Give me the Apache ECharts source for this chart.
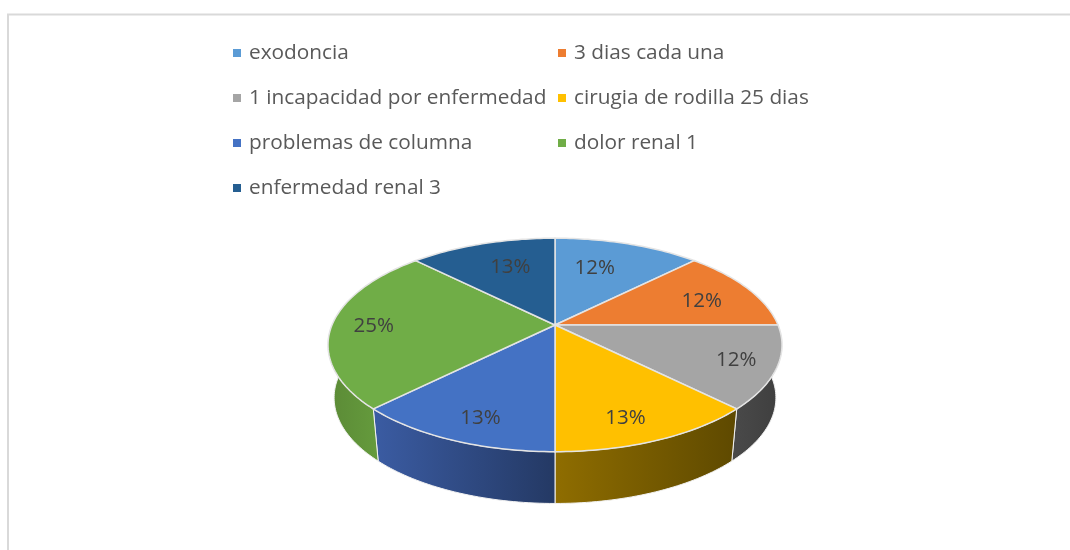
<!DOCTYPE html>
<html>
<head>
<meta charset="utf-8">
<style>
  html, body { margin: 0; padding: 0; background: #fff; }
  #chart { width: 1070px; height: 550px; }
</style>
</head>
<body>
<div id="chart"></div>
<script src="https://cdn.jsdelivr.net/npm/echarts@6/dist/echarts.min.js"></script>
<script>
const sliceNames = ['exodoncia', '3 dias cada una', '1 incapacidad por enfermedad', 'cirugia de rodilla 25 dias', 'problemas de columna', 'dolor renal 1', 'enfermedad renal 3']
const sliceValues = [12.5, 12.5, 12.5, 12.5, 12.5, 25, 12.5]
const sliceLabels = ['12%', '12%', '12%', '13%', '13%', '25%', '13%']

const colors = ['#5B9BD5', '#ED7D31', '#A5A5A5', '#FFC000', '#4472C4', '#70AD47', '#255E91']
const wallColors = [
  ['#5B9BD5', '#5B9BD5'],
  ['#ED7D31', '#ED7D31'],
  ['#4A4A4A', '#3E3E3E'],
  ['#8F6D00', '#5E4900'],
  ['#3B5CA3', '#243964'],
  ['#5B8A36', '#659B3D'],
  ['#255E91', '#255E91']
]
// nudge of each percent label away from the slice mid point
const labelNudge = [[-17, 6], [0, 4], [18, 4], [-3, 11], [-1, 11], [-14, 1], [12, 5]]

const font = '"Open Sans", sans-serif'
const total = sliceValues.reduce((a, b) => a + b, 0)

// perspective disc: u to the right, v towards the viewer
const k = 0.187
const topDisc = { cx: 555, cy: 325, rx: 223, ry: 103 }
const bottomDisc = { cx: 555, cy: 378, rx: 217, ry: 102 }

function project(disc, angle, r = 1) {
  const u = Math.sin(angle) * r
  const v = -Math.cos(angle) * r
  const d = 1 - k * v
  return [disc.cx + disc.rx * u / d, disc.cy + disc.ry * v / d]
}

function sliceAngles(i) {
  const before = sliceValues.slice(0, i).reduce((a, b) => a + b, 0)
  return [before / total * Math.PI * 2, (before + sliceValues[i]) / total * Math.PI * 2]
}

function arcPoints(disc, from, to) {
  const pts = []
  const steps = Math.max(2, Math.ceil((to - from) / 0.02))
  for (let s = 0; s <= steps; s++) pts.push(project(disc, from + (to - from) * s / steps))
  return pts
}

function renderSlice(params, api) {
  const i = params.seriesIndex
  const [a0, a1] = sliceAngles(i)
  const children = []

  // outer wall, only the part facing the viewer
  const w0 = Math.max(a0, Math.PI / 2)
  const w1 = Math.min(a1, Math.PI * 1.5)
  if (w1 > w0) {
    const points = arcPoints(topDisc, w0, w1).concat(arcPoints(bottomDisc, w0, w1).reverse())
    children.push({
      type: 'polygon',
      z2: 1,
      shape: { points },
      style: {
        fill: new echarts.graphic.LinearGradient(0, 0, 1, 0, [
          { offset: 0, color: wallColors[i][0] },
          { offset: 1, color: wallColors[i][1] }
        ]),
        stroke: '#f2f2f2',
        lineWidth: 1
      }
    })
  }

  children.push({
    type: 'polygon',
    z2: 10,
    shape: { points: [[topDisc.cx, topDisc.cy]].concat(arcPoints(topDisc, a0, a1)) },
    style: { fill: colors[i], stroke: '#e4e4e4', lineWidth: 1.5 }
  })

  const mid = project(topDisc, (a0 + a1) / 2, 0.75)
  children.push({
    type: 'text',
    z2: 20,
    style: {
      text: sliceLabels[i],
      x: mid[0] + labelNudge[i][0],
      y: mid[1] + labelNudge[i][1],
      fill: '#404040',
      font: '20.5px ' + font,
      align: 'center',
      verticalAlign: 'middle'
    }
  })
  return { type: 'group', children }
}

const legendBase = {
  orient: 'vertical',
  padding: 0,
  top: 42,
  itemWidth: 8,
  itemHeight: 8,
  itemGap: 23,
  icon: 'rect',
  selectedMode: false,
  textStyle: { color: '#595959', fontFamily: font, fontSize: 20.8, lineHeight: 22, padding: [0, 0, 0, 3] }
}

const chart = echarts.init(document.getElementById('chart'), null, { renderer: 'canvas' })
chart.setOption({
  animation: false,
  backgroundColor: '#fff',
  legend: [
    { ...legendBase, left: 233, data: sliceNames.filter((n, i) => i % 2 === 0) },
    { ...legendBase, left: 558, data: sliceNames.filter((n, i) => i % 2 === 1) }
  ],
  graphic: [{
    type: 'polyline',
    silent: true,
    shape: { points: [[8, 550], [8, 14.5], [1070, 14.5]] },
    style: { stroke: '#d9d9d9', lineWidth: 2, fill: null }
  }],
  series: sliceNames.map((name, i) => ({
    type: 'custom',
    name,
    coordinateSystem: 'none',
    itemStyle: { color: colors[i] },
    data: [sliceValues[i]],
    renderItem: renderSlice
  }))
})
</script>
</body>
</html>
